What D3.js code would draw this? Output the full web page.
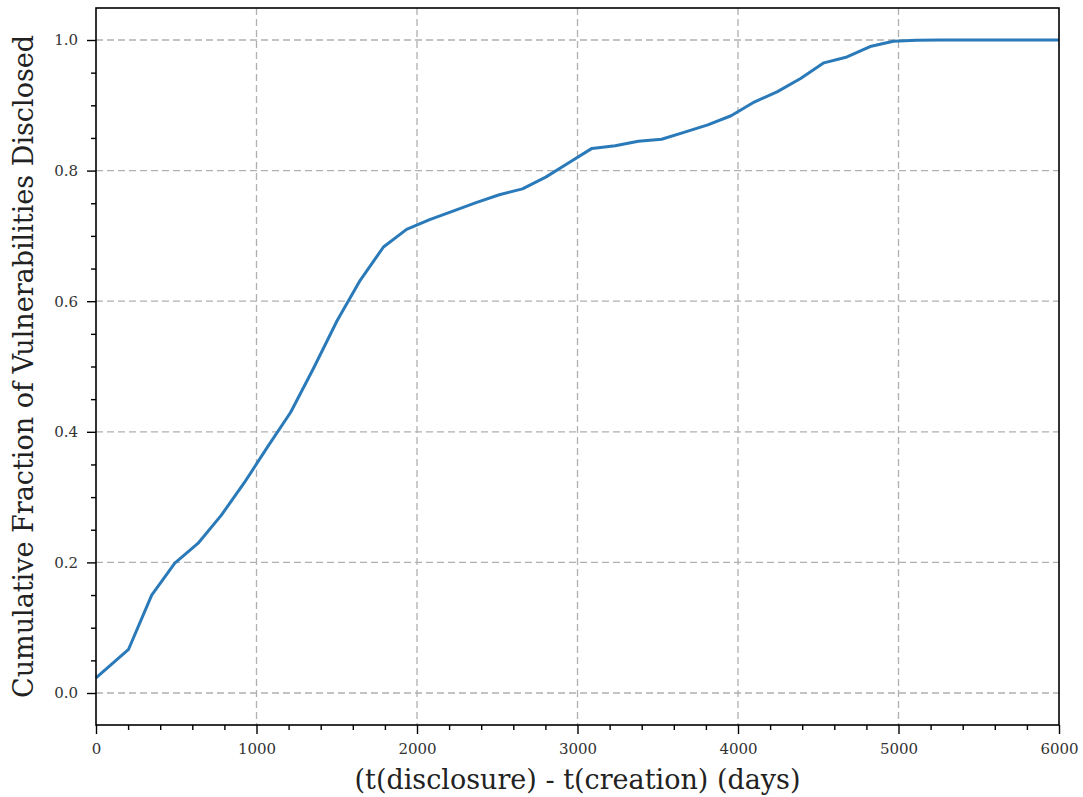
<!DOCTYPE html>
<head>
  <meta charset="utf-8">
  <script src="https://d3js.org/d3.v7.min.js"></script>
  <style>
    body { margin:0; background:#fff; }
    text { font-family: 'DejaVu Serif', serif; fill:#222; }
  </style>
</head>
<body>
  <script>
    // days between creation and disclosure
    var days = [0, 203, 347, 491, 635, 780, 924, 1069, 1213, 1357, 1502, 1646, 1791, 1935,
                2079, 2224, 2368, 2513, 2657, 2802, 2946, 3090, 3235, 3379, 3524, 3668, 3812,
                3957, 4101, 4246, 4390, 4535, 4679, 4823, 4968, 5112, 5257, 5401, 5546, 5690,
                5834, 6000];
    // cumulative fraction disclosed
    var frac = [0.023, 0.067, 0.150, 0.199, 0.229, 0.272, 0.322, 0.377, 0.430, 0.498, 0.570,
                0.632, 0.683, 0.710, 0.725, 0.738, 0.751, 0.763, 0.772, 0.790, 0.812, 0.834,
                0.838, 0.845, 0.848, 0.859, 0.870, 0.884, 0.905, 0.921, 0.941, 0.965, 0.974,
                0.990, 0.998, 0.9995, 1.0, 1.0, 1.0, 1.0, 1.0, 1.0];
    var xTicks = [0, 1000, 2000, 3000, 4000, 5000, 6000];
    var yTicks = [0.0, 0.2, 0.4, 0.6, 0.8, 1.0];

    var width = 1083, height = 797;
    var margin = {top: 8, right: 24, bottom: 72, left: 96};
    var w = width - margin.left - margin.right,
        h = height - margin.top - margin.bottom;

    var svg = d3.select('body').append('svg')
      .attr('width', width)
      .attr('height', height);

    var g = svg.append('g')
      .attr('transform', 'translate(' + margin.left + ',' + margin.top + ')');

    var x = d3.scaleLinear().domain([0, 6000]).range([0, w]);
    var y = d3.scaleLinear().domain([-0.049, 1.049]).range([h, 0]);

    // grid
    g.selectAll('.gx').data(xTicks.slice(1, -1)).enter().append('line')
      .attr('x1', d => x(d)).attr('x2', d => x(d))
      .attr('y1', 0).attr('y2', h)
      .style('stroke', '#b0b0b0').style('stroke-width', 1.3)
      .style('stroke-dasharray', '7,4');
    g.selectAll('.gy').data(yTicks).enter().append('line')
      .attr('x1', 0).attr('x2', w)
      .attr('y1', d => y(d)).attr('y2', d => y(d))
      .style('stroke', '#b0b0b0').style('stroke-width', 1.3)
      .style('stroke-dasharray', '7,4');

    // minor ticks
    var xMinor = d3.range(0, 6001, 200).filter(d => d % 1000 != 0);
    var yMinor = d3.range(-0.05, 1.051, 0.05).filter(d => Math.abs(d * 5 - Math.round(d * 5)) > 1e-6 && d > -0.049 && d < 1.049);

    var xAxis = d3.axisBottom(x).tickValues(xTicks).tickFormat(d3.format('d'))
      .tickSize(9).tickPadding(9);
    var yAxis = d3.axisLeft(y).tickValues(yTicks).tickFormat(d3.format('.1f'))
      .tickSize(9).tickPadding(9);

    var gx = g.append('g').attr('transform', 'translate(0,' + h + ')').call(xAxis);
    var gy = g.append('g').call(yAxis);
    g.append('g').attr('transform', 'translate(0,' + h + ')')
      .call(d3.axisBottom(x).tickValues(xMinor).tickSize(5).tickFormat(''));
    g.append('g')
      .call(d3.axisLeft(y).tickValues(yMinor).tickSize(5).tickFormat(''));

    g.selectAll('.domain').remove();
    g.selectAll('.tick line').style('stroke', '#000').style('stroke-width', 1.4);
    g.selectAll('.tick text').style('font-size', '15px').style('fill', '#333')
      .style('font-family', "'DejaVu Serif', serif");

    // the curve
    var pts = days.map((d, i) => [d, frac[i]]);
    var line = d3.line().x(d => x(d[0])).y(d => y(d[1]));
    g.append('path').datum(pts)
      .attr('d', line)
      .style('fill', 'none')
      .style('stroke', '#2a7ab9')
      .style('stroke-width', 3)
      .style('stroke-linejoin', 'round');

    // frame
    g.append('rect').attr('width', w).attr('height', h)
      .style('fill', 'none').style('stroke', '#000').style('stroke-width', 1.6);

    // labels
    svg.append('text')
      .attr('x', margin.left + w / 2).attr('y', 789)
      .attr('text-anchor', 'middle')
      .style('font-size', '27px')
      .text('(t(disclosure) - t(creation) (days)');

    svg.append('text')
      .attr('transform', 'translate(33,' + (margin.top + h / 2) + ') rotate(-90)')
      .attr('text-anchor', 'middle')
      .style('font-size', '27px')
      .text('Cumulative Fraction of Vulnerabilities Disclosed');
  </script>
</body>
